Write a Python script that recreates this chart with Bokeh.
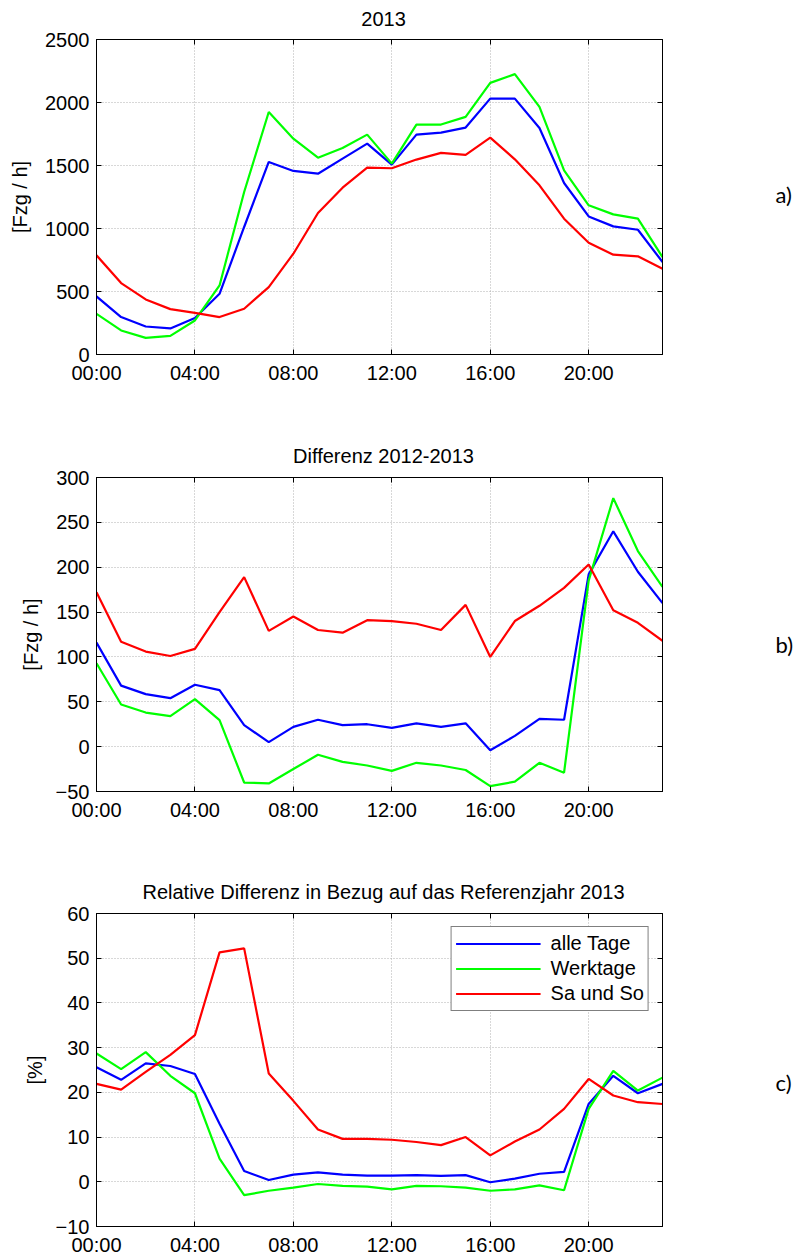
from bokeh.plotting import figure
from bokeh.layouts import column, row
from bokeh.models import Range1d, FixedTicker, LinearAxis
from bokeh.core.properties import value
from bokeh.embed import file_html
from bokeh.resources import INLINE

hours = list(range(24))
x_ticks = [0, 4, 8, 12, 16, 20]
x_tick_labels = ["00:00", "04:00", "08:00", "12:00", "16:00", "20:00"]

series_names = ["alle Tage", "Werktage", "Sa und So"]
series_colors = ["#0000ff", "#00ff00", "#ff0000"]

# a) 2013 [Fzg / h]
a_alle = [461, 297, 222, 207, 289, 482, 1012, 1528, 1457, 1435, 1555, 1674,
          1507, 1745, 1761, 1801, 2031, 2031, 1798, 1361, 1096, 1017, 990, 734]
a_werk = [323, 191, 132, 148, 270, 548, 1290, 1925, 1713, 1562, 1639, 1745,
          1515, 1825, 1825, 1886, 2156, 2225, 1965, 1462, 1184, 1112, 1078, 773]
a_sasu = [787, 567, 437, 360, 331, 297, 363, 535, 800, 1123, 1324, 1483,
          1478, 1547, 1600, 1584, 1721, 1549, 1343, 1078, 887, 792, 779, 681]

# b) Differenz 2012-2013 [Fzg / h]
b_alle = [116, 68, 58.5, 54, 69, 63, 24, 5, 22, 30, 24, 25,
          21, 26, 22, 26, -4, 12, 31, 30, 192, 240, 195, 160]
b_werk = [93, 47, 38, 34, 53, 29.5, -40, -41, -25, -9, -17, -21,
          -27, -18, -21, -26, -44, -39, -18, -29, 185, 277, 218, 178]
b_sasu = [172, 117, 106, 101, 109, 150, 189, 129, 145, 130, 127, 141,
          140, 137, 130, 158, 100, 140, 157, 177, 203, 152, 138, 118]

# c) Relative Differenz [%]
c_alle = [25.6, 22.8, 26.5, 25.9, 24.1, 13, 2.4, 0.4, 1.6, 2.1, 1.6, 1.4,
          1.4, 1.5, 1.3, 1.5, -0.1, 0.7, 1.8, 2.2, 17.4, 23.7, 19.8, 21.9]
c_werk = [28.7, 25.2, 29, 23.7, 19.8, 5.2, -3, -2, -1.3, -0.5, -0.9, -1.1,
          -1.7, -0.9, -1.0, -1.3, -2, -1.7, -0.8, -1.9, 16.3, 24.8, 20.4, 23.3]
c_sasu = [21.9, 20.6, 24.6, 28.4, 32.8, 51.3, 52.2, 24.2, 18.1, 11.7, 9.6, 9.6,
          9.4, 8.9, 8.2, 10, 5.9, 9, 11.7, 16.3, 23, 19.3, 17.8, 17.4]

panel_titles = ["2013", "Differenz 2012-2013",
                "Relative Differenz in Bezug auf das Referenzjahr 2013"]
panel_tags = ["a)", "b)", "c)"]

FONT = "Liberation Sans"
FS = "20px"
MAIN_W = 700
TAG_W = 99
TITLE_H = 29
TOP_GAP = 10


def text_fig(width, height, text, x, y, font, size, align, baseline):
    f = figure(width=width, height=height, output_backend="svg",
               toolbar_location=None, x_range=Range1d(0, width),
               y_range=Range1d(height, 0), min_border=0,
               x_axis_type=None, y_axis_type=None)
    f.outline_line_color = None
    f.grid.visible = False
    f.background_fill_color = "white"
    f.border_fill_color = "white"
    f.text(x=[x], y=[y], text=[text], text_font=value(font),
           text_font_size=size, text_color="black",
           text_baseline=baseline, text_align=align)
    return f


def make_panel(ylabel, y0, y1, yticks, data, height, bottom,
               legend=False, label_standoff=11):
    p = figure(width=MAIN_W, height=height, output_backend="svg",
               toolbar_location=None, x_range=Range1d(0, 23),
               y_range=Range1d(y0, y1), min_border_left=96,
               min_border_right=MAIN_W - 96 - 566, min_border_top=TOP_GAP,
               min_border_bottom=bottom)
    p.outline_line_color = "black"
    p.outline_line_width = 1
    p.background_fill_color = "white"
    p.border_fill_color = "white"

    for ax in (p.xaxis[0], p.yaxis[0]):
        ax.major_tick_in = 5
        ax.major_tick_out = 0
        ax.minor_tick_line_color = None
        ax.axis_line_color = "black"
        ax.major_tick_line_color = "black"
        ax.major_label_text_font = FONT
        ax.major_label_text_font_size = FS
        ax.major_label_text_color = "black"
    p.xaxis[0].ticker = FixedTicker(ticks=x_ticks)
    p.xaxis[0].major_label_overrides = {t: l for t, l in zip(x_ticks, x_tick_labels)}
    p.xaxis[0].major_label_standoff = 7
    p.yaxis[0].ticker = FixedTicker(ticks=yticks)
    p.yaxis[0].major_label_standoff = 7
    p.yaxis[0].axis_label = ylabel
    p.yaxis[0].axis_label_text_font = FONT
    p.yaxis[0].axis_label_text_font_size = FS
    p.yaxis[0].axis_label_text_font_style = "normal"
    p.yaxis[0].axis_label_text_color = "black"
    p.yaxis[0].axis_label_standoff = label_standoff

    top_ax = LinearAxis(ticker=FixedTicker(ticks=x_ticks), major_tick_in=5,
                        major_tick_out=0, minor_tick_line_color=None,
                        major_label_standoff=0,
                        major_label_text_font_size="0px",
                        major_label_text_color=None, axis_line_color="black")
    right_ax = LinearAxis(ticker=FixedTicker(ticks=yticks), major_tick_in=5,
                          major_tick_out=0, minor_tick_line_color=None,
                          major_label_text_font_size="0px",
                          major_label_text_color=None, axis_line_color="black")
    p.add_layout(top_ax, "above")
    p.add_layout(right_ax, "right")

    p.xgrid.ticker = FixedTicker(ticks=x_ticks)
    p.ygrid.ticker = FixedTicker(ticks=yticks)
    for g in (p.xgrid[0], p.ygrid[0]):
        g.grid_line_color = "#b0b0b0"
        g.grid_line_dash = "1 2"
        g.grid_line_width = 1

    for ys, name, col in zip(data, series_names, series_colors):
        if legend:
            p.line(hours, ys, line_color=col, line_width=2.2, legend_label=name)
        else:
            p.line(hours, ys, line_color=col, line_width=2.2)

    if legend:
        lg = p.legend[0]
        lg.location = "top_right"
        lg.margin = 13
        lg.padding = 4
        lg.spacing = 0
        lg.glyph_width = 85
        lg.glyph_height = 25
        lg.label_height = 25
        lg.label_standoff = 10
        lg.label_text_font = FONT
        lg.label_text_font_size = FS
        lg.label_text_color = "black"
        lg.border_line_color = "black"
        lg.border_line_width = 1
        lg.background_fill_alpha = 1
    return p


def block(title, title_y, tag, tag_y, main, height):
    t = text_fig(MAIN_W, TITLE_H, title, 355, title_y, FONT, FS,
                 "center", "middle")
    g = text_fig(TAG_W, height, tag, 75, tag_y, "Lato", "22px",
                 "left", "middle")
    return row(column(t, main, spacing=0), g, spacing=0)


pa = make_panel("[Fzg / h]", 0, 2500, [0, 500, 1000, 1500, 2000, 2500],
                [a_alle, a_werk, a_sasu], 438 - TITLE_H, 84)
pb = make_panel("[Fzg / h]", -50, 300, [-50, 0, 50, 100, 150, 200, 250, 300],
                [b_alle, b_werk, b_sasu], 436 - TITLE_H, 83)
pc = make_panel("[%]", -10, 60, [-10, 0, 10, 20, 30, 40, 50, 60],
                [c_alle, c_werk, c_sasu], 384 - TITLE_H, 30, legend=True,
                label_standoff=7)

layout = column(
    block(panel_titles[0], 18.5, panel_tags[0], 194, pa, 438),
    block(panel_titles[1], 17.5, panel_tags[1], 206, pb, 436),
    block(panel_titles[2], 17.5, panel_tags[2], 208, pc, 384),
    spacing=0)
open("out.html", "w").write(file_html(layout, INLINE))
